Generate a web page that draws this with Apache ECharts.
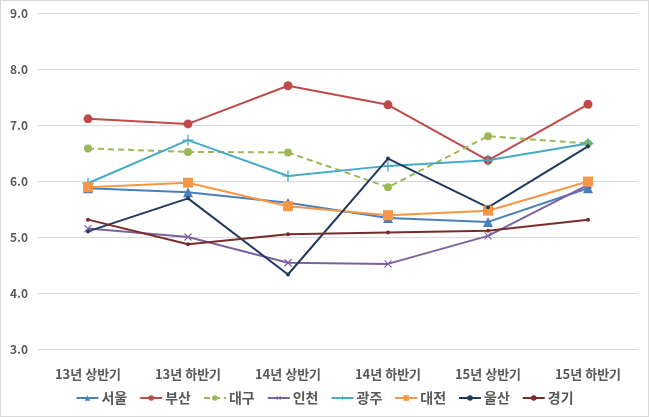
<!DOCTYPE html>
<html><head><meta charset="utf-8">
<script src="https://cdn.jsdelivr.net/npm/echarts@6/dist/echarts.min.js"></script>
<style>html,body{margin:0;padding:0;background:#fff}#c{width:647px;height:415px;border:1px solid #d9d9d9}</style>
</head><body><div id="c"></div>
<script>
var categories = ['13년 상반기','13년 하반기','14년 상반기','14년 하반기','15년 상반기','15년 하반기'];
var seoul   = [5.87, 5.80, 5.61, 5.34, 5.27, 5.87];
var busan   = [7.11, 7.02, 7.70, 7.36, 6.37, 7.37];
var daegu   = [6.58, 6.52, 6.51, 5.89, 6.80, 6.67];
var incheon = [5.15, 5.00, 4.54, 4.52, 5.02, 5.93];
var gwangju = [5.96, 6.73, 6.09, 6.27, 6.37, 6.67];
var daejeon = [5.89, 5.97, 5.55, 5.39, 5.47, 5.99];
var ulsan   = [5.10, 5.69, 4.33, 6.40, 5.53, 6.62];
var gyeonggi= [5.31, 4.87, 5.05, 5.08, 5.11, 5.31];

var plus = 'path://M4.4,0h1.2v10h-1.2z M0,4.4h10v1.2h-10z';
function s(name, data, color, symbol, size, extra){
  var o = {name:name, type:'line', data:data, symbol:symbol, symbolSize:size,
    lineStyle:{color:color, width:2}, itemStyle:{color:color}};
  if (extra) for (var k in extra) o[k]=extra[k];
  return o;
}
var chart = echarts.init(document.getElementById('c'));
var font = '"Noto Sans CJK KR", sans-serif';
chart.setOption({
  animation:false,
  textStyle:{fontFamily:font},
  grid:{left:37, right:10, top:12, bottom:67},
  legend:{bottom:6, left:'center', itemWidth:22, itemHeight:7, itemGap:12,
    textStyle:{fontFamily:font, fontSize:14, color:'#595959', fontWeight:'bold', padding:[0,0,0,-2]}},
  xAxis:{type:'category', data:categories,
    axisLine:{lineStyle:{color:'#d9d9d9'}}, axisTick:{show:false},
    axisLabel:{fontFamily:font, fontSize:13, fontWeight:'bold', color:'#595959', margin:19}},
  yAxis:{type:'value', min:3, max:9, interval:1,
    axisLine:{show:false}, axisTick:{show:false},
    splitLine:{lineStyle:{color:'#d9d9d9'}},
    axisLabel:{fontFamily:font, fontSize:12, fontWeight:'bold', color:'#595959', margin:10,
      formatter:function(v){return v.toFixed(1);}}},
  series:[
    s('서울', seoul, '#4a7ebb', 'triangle', 10),
    s('부산', busan, '#be4b48', 'circle', 9),
    s('대구', daegu, '#98b954', 'circle', 8, {lineStyle:{color:'#98b954', width:2, type:[6,4]}}),
    s('인천', incheon, '#7d60a0', plus, 10, {symbolRotate:45}),
    s('광주', gwangju, '#46aac5', plus, 11),
    s('대전', daejeon, '#f79646', 'rect', 10),
    s('울산', ulsan, '#1f3a60', 'circle', 4),
    s('경기', gyeonggi, '#772c2a', 'circle', 4)
  ]
});
</script></body></html>
